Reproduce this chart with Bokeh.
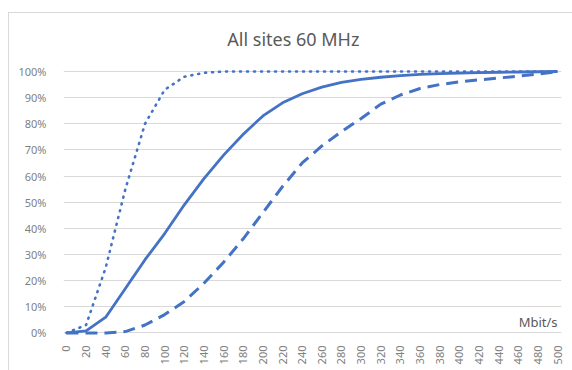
import math
from bokeh.plotting import figure
from bokeh.models import FixedTicker, Label, Range1d, CustomJSTickFormatter
from bokeh.embed import file_html
from bokeh.resources import INLINE

# Throughput (Mbit/s) categories and cumulative share of samples (%)
speeds = list(range(0, 520, 20))
cdf_fast = [0, 3, 25, 55, 80, 93, 98, 99.5, 100, 100, 100, 100, 100, 100,
            100, 100, 100, 100, 100, 100, 100, 100, 100, 100, 100, 100]
cdf_mid = [0, 0.8, 6, 17, 28, 38, 49, 59, 68, 76, 83, 88, 91.5, 94, 95.8,
           97, 97.8, 98.4, 98.9, 99.2, 99.4, 99.6, 99.7, 99.8, 99.9, 100]
cdf_slow = [0, 0, 0, 0.5, 3, 7, 12, 19, 27, 36, 46, 56, 65, 71.5, 77, 82,
            87.5, 91, 93.5, 95, 96, 96.8, 97.5, 98.2, 99, 100]
y_ticks = list(range(0, 101, 10))

BLUE = "#4472C4"
FONT = "Noto Sans"

# The frame reaches up into the title area so the title can sit in data space
p = figure(width=564, height=358, output_backend="svg", toolbar_location=None,
           x_range=Range1d(-3, 504), y_range=Range1d(-1, 121.8),
           min_border_left=54, min_border_right=12, min_border_top=1,
           min_border_bottom=36)
p.margin = (12, 0, 0, 8)
p.styles = {"border-top": "1px solid #d9d9d9", "border-left": "1px solid #d9d9d9"}
p.outline_line_color = None
p.background_fill_color = "white"
p.border_fill_color = "white"

# Gridlines every 10 %
p.xgrid.visible = False
p.ygrid.ticker = FixedTicker(ticks=y_ticks)
p.ygrid.grid_line_color = "#d9d9d9"
p.ygrid.grid_line_width = 1

# Axes
for ax in (p.xaxis[0], p.yaxis[0]):
    ax.axis_line_color = None
    ax.major_tick_line_color = None
    ax.minor_tick_line_color = None
    ax.major_label_text_color = "#7f7f7f"
    ax.major_label_text_font = FONT
    ax.major_label_text_font_size = "11px"

p.yaxis.ticker = FixedTicker(ticks=y_ticks)
p.yaxis.formatter = CustomJSTickFormatter(code="return tick.toFixed(0) + '%';")
p.yaxis.major_label_standoff = 11

p.xaxis.ticker = FixedTicker(ticks=speeds)
p.xaxis.major_label_orientation = math.pi / 2
p.xaxis.major_label_standoff = 4

# CDF curves
p.line(speeds, cdf_slow, line_color=BLUE, line_width=3, line_dash="12 7")
p.line(speeds, cdf_fast, line_color=BLUE, line_width=2.6, line_dash="1 6",
       line_cap="round")
p.line(speeds, cdf_mid, line_color=BLUE, line_width=2.8, line_join="round")

# Title and unit label
p.add_layout(Label(x=231, y=112.5, text="All sites 60 MHz", text_align="center",
                   text_baseline="middle", text_font=FONT, text_font_size="18px",
                   text_color="#595959"))
p.add_layout(Label(x=500, y=4, text="Mbit/s", text_align="right",
                   text_baseline="middle", text_font=FONT, text_font_size="13px",
                   text_color="#595959"))

open("out.html", "w").write(file_html(p, INLINE))
